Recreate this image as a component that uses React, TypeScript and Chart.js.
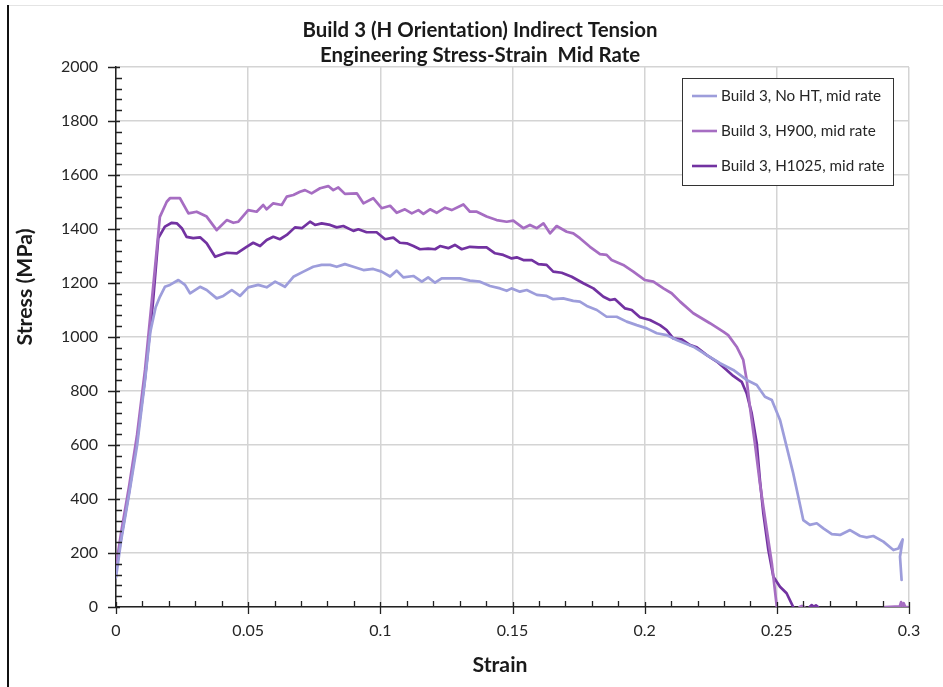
import React, { useEffect, useRef } from 'react';
import { Chart, registerables } from 'chart.js';

Chart.register(...registerables);

const chartTitle = ['Build 3 (H Orientation) Indirect Tension', 'Engineering Stress-Strain  Mid Rate'];
const xAxisTitle = 'Strain';
const yAxisTitle = 'Stress (MPa)';
const seriesLabels = ['Build 3, No HT, mid rate', 'Build 3, H900, mid rate', 'Build 3, H1025, mid rate'];
const seriesColors = ['#9d9ddb', '#a66dc2', '#7232a1'];
const xTickLabels = ['0', '0.05', '0.1', '0.15', '0.2', '0.25', '0.3'];
const yTickLabels = ['0', '200', '400', '600', '800', '1000', '1200', '1400', '1600', '1800', '2000'];

const noHtStrain = [0, 0.002, 0.005, 0.008, 0.011, 0.013, 0.015, 0.0166, 0.0185, 0.0204, 0.0236, 0.0261, 0.028, 0.0318, 0.0343, 0.0381, 0.0406, 0.0438, 0.0469, 0.05, 0.0538, 0.057, 0.0602, 0.0639, 0.0671, 0.0709, 0.0746, 0.0778, 0.081, 0.0835, 0.0866, 0.0898, 0.0936, 0.0973, 0.1005, 0.1037, 0.1062, 0.1087, 0.1125, 0.1157, 0.1181, 0.1207, 0.1232, 0.1264, 0.1301, 0.1339, 0.1377, 0.1415, 0.1453, 0.1478, 0.1497, 0.1528, 0.1554, 0.1592, 0.1629, 0.1654, 0.1692, 0.173, 0.1755, 0.1781, 0.1819, 0.1856, 0.1894, 0.1932, 0.197, 0.2008, 0.2046, 0.2083, 0.2121, 0.2184, 0.2235, 0.2285, 0.2335, 0.2386, 0.2424, 0.2455, 0.2481, 0.2512, 0.2537, 0.2562, 0.2581, 0.26, 0.2625, 0.2651, 0.2676, 0.2708, 0.2739, 0.2777, 0.2815, 0.284, 0.2865, 0.2903, 0.2941, 0.296, 0.2976, 0.2966, 0.2972];
const noHtStress = [110, 250, 420, 600, 840, 1020, 1110, 1149, 1186, 1193, 1211, 1193, 1162, 1186, 1174, 1143, 1152, 1174, 1152, 1184, 1193, 1184, 1205, 1186, 1223, 1242, 1260, 1267, 1267, 1260, 1270, 1260, 1248, 1252, 1242, 1224, 1246, 1221, 1226, 1205, 1221, 1201, 1217, 1217, 1217, 1209, 1205, 1189, 1180, 1171, 1180, 1168, 1174, 1156, 1152, 1140, 1143, 1134, 1131, 1115, 1100, 1075, 1075, 1057, 1044, 1032, 1014, 1007, 989, 964, 933, 903, 878, 841, 822, 779, 767, 693, 594, 495, 409, 322, 304, 310, 291, 270, 267, 285, 263, 258, 263, 242, 211, 217, 250, 186, 100];

const h900Strain = [0, 0.002, 0.005, 0.008, 0.011, 0.014, 0.0166, 0.0192, 0.0204, 0.0242, 0.0274, 0.0305, 0.0343, 0.0381, 0.0419, 0.0444, 0.0463, 0.05, 0.0532, 0.0557, 0.057, 0.0595, 0.0627, 0.0646, 0.0671, 0.0696, 0.0715, 0.074, 0.0772, 0.0803, 0.0822, 0.0841, 0.0866, 0.0911, 0.0936, 0.0973, 0.1005, 0.1037, 0.1062, 0.1093, 0.1119, 0.1144, 0.1163, 0.1188, 0.1213, 0.1245, 0.127, 0.1314, 0.1339, 0.1365, 0.1402, 0.144, 0.1478, 0.1503, 0.1541, 0.1566, 0.1592, 0.1617, 0.1642, 0.1667, 0.1705, 0.173, 0.1755, 0.1793, 0.1831, 0.1856, 0.1875, 0.1919, 0.1957, 0.2001, 0.2033, 0.2071, 0.2102, 0.2134, 0.2184, 0.2247, 0.2297, 0.2316, 0.2348, 0.2373, 0.2386, 0.2398, 0.2417, 0.2436, 0.2462, 0.2481, 0.25, 0.2503, 0.2586, 0.2595, 0.2604, 0.2606, 0.291, 0.2965, 0.297, 0.2975, 0.298, 0.2986, 0.2995];
const h900Stress = [150, 280, 450, 640, 880, 1180, 1445, 1501, 1514, 1514, 1458, 1464, 1446, 1396, 1433, 1423, 1427, 1470, 1464, 1489, 1473, 1495, 1489, 1520, 1526, 1538, 1544, 1532, 1551, 1559, 1544, 1554, 1530, 1532, 1495, 1514, 1477, 1486, 1460, 1473, 1458, 1470, 1456, 1473, 1460, 1479, 1470, 1491, 1464, 1464, 1446, 1433, 1427, 1431, 1403, 1415, 1403, 1421, 1384, 1411, 1390, 1384, 1366, 1334, 1307, 1304, 1285, 1267, 1242, 1211, 1205, 1180, 1162, 1131, 1088, 1051, 1020, 1007, 964, 915, 841, 742, 606, 458, 285, 162, 0, null, 0, 4, 0, null, 0, 2, 18, 3, 14, 0, 0];

const h1025Strain = [0, 0.002, 0.005, 0.008, 0.011, 0.014, 0.016, 0.0185, 0.0211, 0.023, 0.0249, 0.0267, 0.0292, 0.0318, 0.0343, 0.0375, 0.0393, 0.0419, 0.0457, 0.0494, 0.0519, 0.0545, 0.057, 0.0595, 0.062, 0.0646, 0.0677, 0.0703, 0.0734, 0.0753, 0.0778, 0.081, 0.0835, 0.086, 0.0898, 0.0917, 0.0948, 0.0986, 0.1018, 0.1049, 0.1074, 0.11, 0.1125, 0.115, 0.1181, 0.1207, 0.1226, 0.1257, 0.1282, 0.1308, 0.1339, 0.1371, 0.1402, 0.1434, 0.1465, 0.1497, 0.1516, 0.1541, 0.1573, 0.1598, 0.1629, 0.1654, 0.1686, 0.1724, 0.1768, 0.1806, 0.1844, 0.1869, 0.1888, 0.1926, 0.1951, 0.1982, 0.202, 0.2058, 0.2083, 0.2108, 0.214, 0.2172, 0.2197, 0.2235, 0.2273, 0.231, 0.2335, 0.2367, 0.2386, 0.2405, 0.2424, 0.2436, 0.2449, 0.2468, 0.2487, 0.2512, 0.2537, 0.2562, 0.2565, 0.2624, 0.2632, 0.264, 0.2648, 0.2656];
const h1025Stress = [130, 260, 430, 620, 850, 1130, 1366, 1409, 1423, 1421, 1403, 1371, 1366, 1369, 1347, 1297, 1304, 1312, 1310, 1334, 1349, 1337, 1359, 1371, 1362, 1378, 1406, 1403, 1427, 1415, 1421, 1415, 1406, 1411, 1393, 1399, 1388, 1388, 1362, 1368, 1349, 1347, 1337, 1325, 1327, 1325, 1337, 1329, 1341, 1325, 1334, 1332, 1332, 1310, 1304, 1291, 1295, 1285, 1285, 1270, 1267, 1242, 1238, 1223, 1199, 1180, 1149, 1137, 1140, 1106, 1100, 1073, 1063, 1044, 1026, 995, 991, 970, 962, 933, 909, 878, 856, 834, 791, 717, 606, 470, 347, 211, 112, 75, 51, 0, null, 0, 7, 1, 6, 0];

const FAMILY = 'Lato, "Open Sans", sans-serif';

function toPoints(xs: number[], ys: (number | null)[]) {
  return xs.map((x, i) => ({ x, y: ys[i] }));
}

function fitSize(ctx: CanvasRenderingContext2D, text: string, weight: string, target: number) {
  ctx.font = `${weight} 100px ${FAMILY}`;
  const w = ctx.measureText(text).width;
  return (100 * target) / w;
}

const decorPlugin = {
  id: 'decor',
  beforeDraw(chart: any) {
    const ctx = chart.ctx as CanvasRenderingContext2D;
    ctx.save();
    ctx.fillStyle = '#ffffff';
    ctx.fillRect(0, 0, chart.width, chart.height);
    ctx.fillStyle = '#e4e4e4';
    ctx.fillRect(8, 5, chart.width - 8, 1);
    ctx.fillStyle = '#111111';
    ctx.fillRect(7, 5, 2, chart.height - 5);
    ctx.restore();
  },
  afterDraw(chart: any) {
    const ctx = chart.ctx as CanvasRenderingContext2D;
    const ca = chart.chartArea;
    const xs = chart.scales.x;
    const ys = chart.scales.y;
    ctx.save();
    // tick marks
    ctx.strokeStyle = '#222222';
    ctx.lineWidth = 1.3;
    ctx.beginPath();
    for (let i = 0; i <= 30; i++) {
      const px = Math.round(xs.getPixelForValue(i / 100)) + 0.5;
      if (i % 5 === 0) {
        ctx.moveTo(px, ca.bottom - 5);
        ctx.lineTo(px, ca.bottom + 7);
      } else {
        ctx.moveTo(px, ca.bottom - 6);
        ctx.lineTo(px, ca.bottom);
      }
    }
    for (let v = 0; v <= 2000; v += 40) {
      const py = Math.round(ys.getPixelForValue(v)) + 0.5;
      if (v % 200 === 0) {
        ctx.moveTo(ca.left - 8, py);
        ctx.lineTo(ca.left + 4, py);
      } else {
        ctx.moveTo(ca.left, py);
        ctx.lineTo(ca.left + 6, py);
      }
    }
    ctx.stroke();

    // chart title (letterSpacing avoids the "ti" ligature)
    (ctx as any).letterSpacing = '0.01px';
    ctx.fillStyle = '#1a1a1a';
    ctx.textAlign = 'center';
    ctx.textBaseline = 'alphabetic';
    const ts = fitSize(ctx, chartTitle[0], 'bold', 355);
    ctx.font = `bold ${ts}px ${FAMILY}`;
    ctx.fillText(chartTitle[0], 480, 37);
    ctx.fillText(chartTitle[1], 480, 62);

    // axis titles
    const xsz = fitSize(ctx, xAxisTitle, 'bold', 55);
    ctx.font = `bold ${xsz}px ${FAMILY}`;
    ctx.textBaseline = 'middle';
    ctx.fillText(xAxisTitle, 500, 665);
    const ysz = fitSize(ctx, yAxisTitle, 'bold', 117);
    ctx.save();
    ctx.translate(25, 287);
    ctx.rotate(-Math.PI / 2);
    ctx.font = `bold ${ysz}px ${FAMILY}`;
    ctx.fillText(yAxisTitle, 0, 0);
    ctx.restore();

    // legend
    const lx = 682, ly = 78, lw = 211, lh = 107;
    ctx.fillStyle = '#ffffff';
    ctx.fillRect(lx, ly, lw, lh);
    ctx.strokeStyle = '#333333';
    ctx.lineWidth = 1;
    ctx.strokeRect(lx + 0.5, ly + 0.5, lw, lh);
    const rows = [96, 131, 166];
    const lsz = fitSize(ctx, seriesLabels[0], 'normal', 160);
    ctx.font = `${lsz}px ${FAMILY}`;
    ctx.textAlign = 'left';
    ctx.textBaseline = 'middle';
    chart.data.datasets.forEach((ds: any, i: number) => {
      const ry = rows[i];
      ctx.strokeStyle = ds.borderColor;
      ctx.lineWidth = 2.6;
      ctx.beginPath();
      ctx.moveTo(692, ry);
      ctx.lineTo(717, ry);
      ctx.stroke();
      ctx.fillStyle = '#262626';
      ctx.fillText(ds.label, 721, ry);
    });
    ctx.restore();
  },
};

export default function App() {
  const canvasRef = useRef<HTMLCanvasElement | null>(null);

  useEffect(() => {
    const canvas = canvasRef.current;
    if (!canvas) return;
    const seriesX = [noHtStrain, h900Strain, h1025Strain];
    const seriesY = [noHtStress, h900Stress, h1025Stress];
    const chart = new Chart(canvas, {
      type: 'line',
      data: {
        datasets: seriesLabels.map((label, i) => ({
          label,
          data: toPoints(seriesX[i], seriesY[i]),
          borderColor: seriesColors[i],
          backgroundColor: seriesColors[i],
          borderWidth: 2.7,
          borderJoinStyle: 'round',
          borderCapStyle: 'round',
          pointRadius: 0,
          tension: 0,
          fill: false,
          spanGaps: false,
        })),
      },
      options: {
        responsive: false,
        animation: false,
        devicePixelRatio: 1,
        layout: { padding: { top: 67, right: 34, left: 0, bottom: 0 } },
        plugins: {
          legend: { display: false },
          title: { display: false },
          tooltip: { enabled: false },
        },
        scales: {
          x: {
            type: 'linear',
            min: 0,
            max: 0.3,
            afterFit: (s: any) => { s.height = 80; },
            afterBuildTicks: (s: any) => {
              s.ticks = xTickLabels.map((t) => ({ value: parseFloat(t) }));
            },
            ticks: {
              callback: (_v: any, i: number) => xTickLabels[i],
              font: { family: FAMILY, size: 16 },
              color: '#262626',
              padding: 14,
              maxRotation: 0,
              autoSkip: false,
            },
            grid: { color: '#d4d4d4', lineWidth: 1.5, drawTicks: false },
            border: { color: '#222222', width: 1.5 },
          },
          y: {
            type: 'linear',
            min: 0,
            max: 2000,
            afterFit: (s: any) => { s.width = 116; },
            afterBuildTicks: (s: any) => {
              s.ticks = yTickLabels.map((t) => ({ value: parseFloat(t) }));
            },
            ticks: {
              callback: (_v: any, i: number) => yTickLabels[i],
              font: { family: FAMILY, size: 16 },
              color: '#262626',
              padding: 18,
              autoSkip: false,
            },
            grid: { color: '#d4d4d4', lineWidth: 1.5, drawTicks: false },
            border: { color: '#222222', width: 1.5 },
          },
        },
      },
      plugins: [decorPlugin],
    } as any);
    return () => chart.destroy();
  }, []);

  return (
    <div style={{ position: 'absolute', left: 0, top: 0, width: 943, height: 687 }}>
      <canvas ref={canvasRef} width={943} height={687} style={{ display: 'block' }} />
    </div>
  );
}
